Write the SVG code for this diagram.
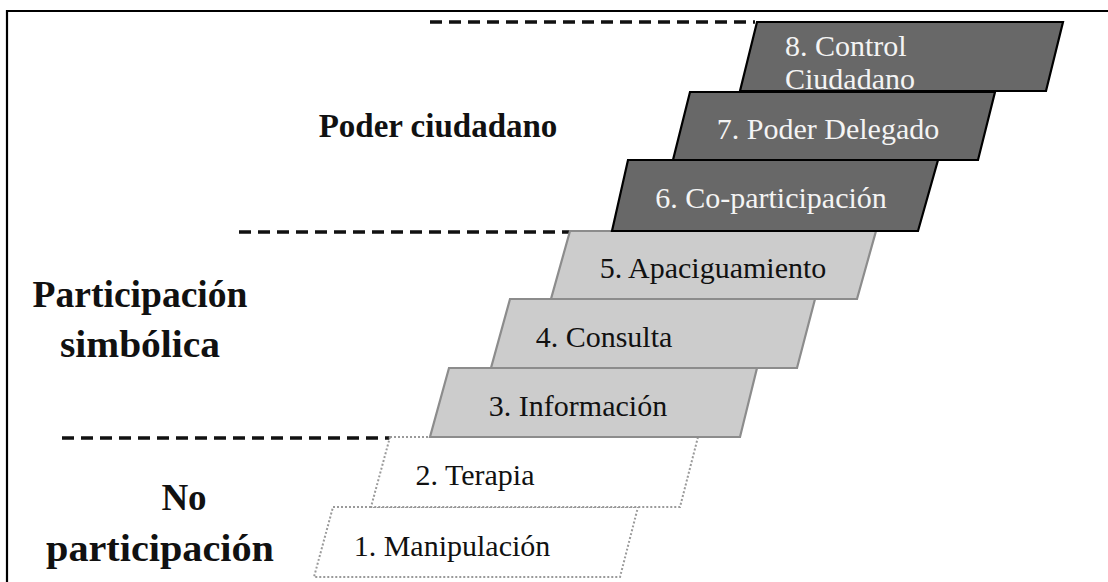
<svg xmlns="http://www.w3.org/2000/svg" width="1108" height="582" viewBox="0 0 1108 582">
<style>
.lbl{font-family:"Liberation Serif","Times New Roman",serif;font-size:30px}
.grp{font-family:"Liberation Serif","Times New Roman",serif;font-size:33px;font-weight:bold;fill:#111;text-anchor:middle}
.big{font-size:37px}
.dark{fill:#686868;stroke:#000;stroke-width:2.2;stroke-linejoin:miter}
.light{fill:#cccccc;stroke:#8c8c8c;stroke-width:2.2}
.none{fill:#fff;stroke:#9a9a9a;stroke-width:2;stroke-dasharray:2 2}
.tw{fill:#f4f4f4}
.tb{fill:#111}
.sep{stroke:#111;stroke-width:3.5;stroke-dasharray:12 7;fill:none}
</style>
<rect x="0" y="0" width="1108" height="582" fill="#fff"/>
<path d="M7,582 V11 H1108" fill="none" stroke="#000" stroke-width="2.2"/>
<g id="connectors">
<line class="sep" x1="430" y1="22" x2="755" y2="22"/>
<line class="sep" x1="239" y1="232" x2="570" y2="232"/>
<line class="sep" x1="62" y1="438" x2="390" y2="438"/>
</g>
<g id="labels-groups">
<text class="grp" x="438" y="137">Poder ciudadano</text>
<text class="grp big" x="140" y="307" textLength="215" lengthAdjust="spacingAndGlyphs">Participación</text>
<text class="grp big" x="140" y="357" textLength="160" lengthAdjust="spacingAndGlyphs">simbólica</text>
<text class="grp big" x="184" y="510">No</text>
<text class="grp big" x="160" y="561" textLength="228" lengthAdjust="spacingAndGlyphs">participación</text>
</g>
<g id="n1">
<polygon class="none" points="333,507 638,507 620,577 314,577"/>
<text class="lbl tb" x="452" y="556" text-anchor="middle">1. Manipulación</text>
</g>
<g id="n2">
<polygon class="none" points="390,437 698,437 680,507 371,507"/>
<text class="lbl tb" x="475" y="485" text-anchor="middle">2. Terapia</text>
</g>
<g id="n3">
<polygon class="light" points="449,368 757,368 740,437 430,437"/>
<text class="lbl tb" x="578" y="416" text-anchor="middle">3. Información</text>
</g>
<g id="n4">
<polygon class="light" points="510,299 815,299 797,368 491,368"/>
<text class="lbl tb" x="604" y="347" text-anchor="middle">4. Consulta</text>
</g>
<g id="n5">
<polygon class="light" points="570,231 876,231 857,299 551,299"/>
<text class="lbl tb" x="713" y="278" text-anchor="middle">5. Apaciguamiento</text>
</g>
<g id="n6">
<polygon class="dark" points="628,160 938,160 918,231 612,231"/>
<text class="lbl tw" x="771" y="208" text-anchor="middle">6. Co-participación</text>
</g>
<g id="n7">
<polygon class="dark" points="690,92 995,92 978,160 673,160"/>
<text class="lbl tw" x="828" y="139" text-anchor="middle">7. Poder Delegado</text>
</g>
<g id="n8">
<polygon class="dark" points="757,22 1063,22 1046,91 740,91"/>
<text class="lbl tw" x="785" y="56">8. Control</text>
<text class="lbl tw" x="785" y="89">Ciudadano</text>
</g>
</svg>
